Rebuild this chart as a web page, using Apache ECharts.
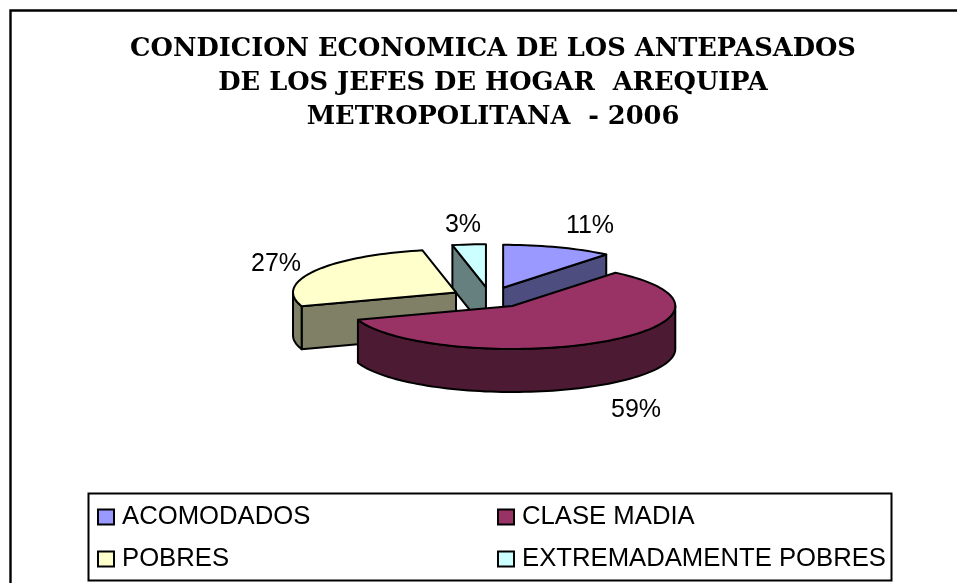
<!DOCTYPE html>
<html><head><meta charset="utf-8">
<style>html,body{margin:0;padding:0;background:#fff}#c{width:957px;height:583px}</style>
<script src="https://cdn.jsdelivr.net/npm/echarts@6/dist/echarts.min.js"></script>
</head><body><div id="c"></div>
<script>
const categories = ['ACOMODADOS', 'CLASE MADIA', 'POBRES', 'EXTREMADAMENTE POBRES'];
const shares = [10.9, 58.9, 26.9, 3.3];
const titleLines = ['CONDICION ECONOMICA DE LOS ANTEPASADOS', 'DE LOS JEFES DE HOGAR  AREQUIPA', 'METROPOLITANA  - 2006'];
const topColors = ['#9999FF', '#993366', '#FFFFCC', '#CCFFFF'];
const sideColors = ['#4D4D80', '#4D1A33', '#808066', '#668080'];

// pie geometry
const CX = 490, CY = 297.5, RX = 163, RY = 43, DEPTH = 43, EXPLODE = 0.24;
// label centres relative to the pie centre
const labelOffsets = [[100, -71], [146, 113], [-214, -33], [-27, -72]];
const zLevels = [2, 4, 3, 1];

const total = shares.reduce((a, b) => a + b, 0);
const rad = d => d * Math.PI / 180;

function renderSlice(i) {
  return function (params, api) {
    const v = api.value(0);
    let startDeg = 0;
    for (let k = 0; k < i; k++) startDeg += shares[k] / total * 360;
    const endDeg = startDeg + v / total * 360;
    const mid = (startDeg + endDeg) / 2;
    const ax = CX + EXPLODE * RX * Math.sin(rad(mid));
    const ay = CY - EXPLODE * RY * Math.cos(rad(mid));
    const pt = d => [ax + RX * Math.sin(rad(d)), ay - RY * Math.cos(rad(d))];
    const down = p => [p[0], p[1] + DEPTH];
    const arc = (a, b) => {
      const out = [];
      const n = Math.max(2, Math.ceil(Math.abs(b - a) / 2));
      for (let s = 0; s <= n; s++) out.push(pt(a + (b - a) * s / n));
      return out;
    };
    const line = { stroke: '#000', lineWidth: 2, lineJoin: 'round' };
    const poly = (points, fill) => ({
      type: 'polygon', shape: { points }, style: Object.assign({ fill }, line)
    });
    const children = [];
    const apex = [ax, ay];
    // flat cut faces turned toward the viewer
    if (Math.cos(rad(startDeg - 90)) < 0) {
      const p = pt(startDeg);
      children.push(poly([apex, p, down(p), down(apex)], sideColors[i]));
    }
    if (Math.cos(rad(endDeg + 90)) < -1e-6) {
      const p = pt(endDeg);
      children.push(poly([apex, p, down(p), down(apex)], sideColors[i]));
    }
    // outer rim: the part of the slice between 90 and 270 degrees
    const a0 = Math.max(startDeg, 90), a1 = Math.min(endDeg, 270);
    if (a1 > a0) {
      const top = arc(a0, a1);
      children.push(poly(top.concat(top.slice().reverse().map(down)), sideColors[i]));
    }
    // top face
    children.push(poly([apex].concat(arc(startDeg, endDeg)), topColors[i]));
    // percentage label
    children.push({
      type: 'text', z2: 10,
      style: {
        x: CX + labelOffsets[i][0], y: CY + labelOffsets[i][1],
        text: Math.round(v / total * 100) + '%',
        fill: '#000', font: '25px "Liberation Sans", Arial, sans-serif',
        align: 'center', verticalAlign: 'middle'
      }
    });
    return { type: 'group', children };
  };
}

const chart = echarts.init(document.getElementById('c'), null, { renderer: 'canvas' });
chart.setOption({
  animation: false,
  backgroundColor: '#fff',
  title: {
    text: titleLines.join('\n'),
    left: 488, top: 27, textAlign: 'center',
    textStyle: {
      fontFamily: '"DejaVu Serif", serif', fontWeight: 'bold',
      fontSize: 25.7, lineHeight: 34, color: '#000'
    }
  },
  legend: [
    { data: [categories[0], categories[2]] },
    { data: [categories[1], categories[3]] }
  ].map((l, n) => Object.assign(l, {
    orient: 'vertical', left: n ? 497 : 97, top: 504,
    itemWidth: 16, itemHeight: 15, itemGap: 16, icon: 'rect', padding: 0, selectedMode: false,
    itemStyle: { borderColor: '#000', borderWidth: 2 },
    textStyle: { fontFamily: '"Liberation Sans", Arial, sans-serif', fontSize: 25.7, color: '#000', padding: [0, 0, 0, 3] }
  })),
  graphic: [
    { type: 'rect', silent: true, z: -1, shape: { x: 10.5, y: 10.5, width: 1000, height: 1000 }, style: { fill: 'none', stroke: '#000', lineWidth: 2.4 } },
    { type: 'rect', silent: true, z: -1, shape: { x: 88.5, y: 493.5, width: 803, height: 87 }, style: { fill: '#fff', stroke: '#000', lineWidth: 2 } }
  ],
  series: categories.map((name, i) => ({
    type: 'custom', name, coordinateSystem: 'none', z: zLevels[i],
    itemStyle: { color: topColors[i] },
    renderItem: renderSlice(i),
    data: [[shares[i]]]
  }))
});
</script></body></html>
